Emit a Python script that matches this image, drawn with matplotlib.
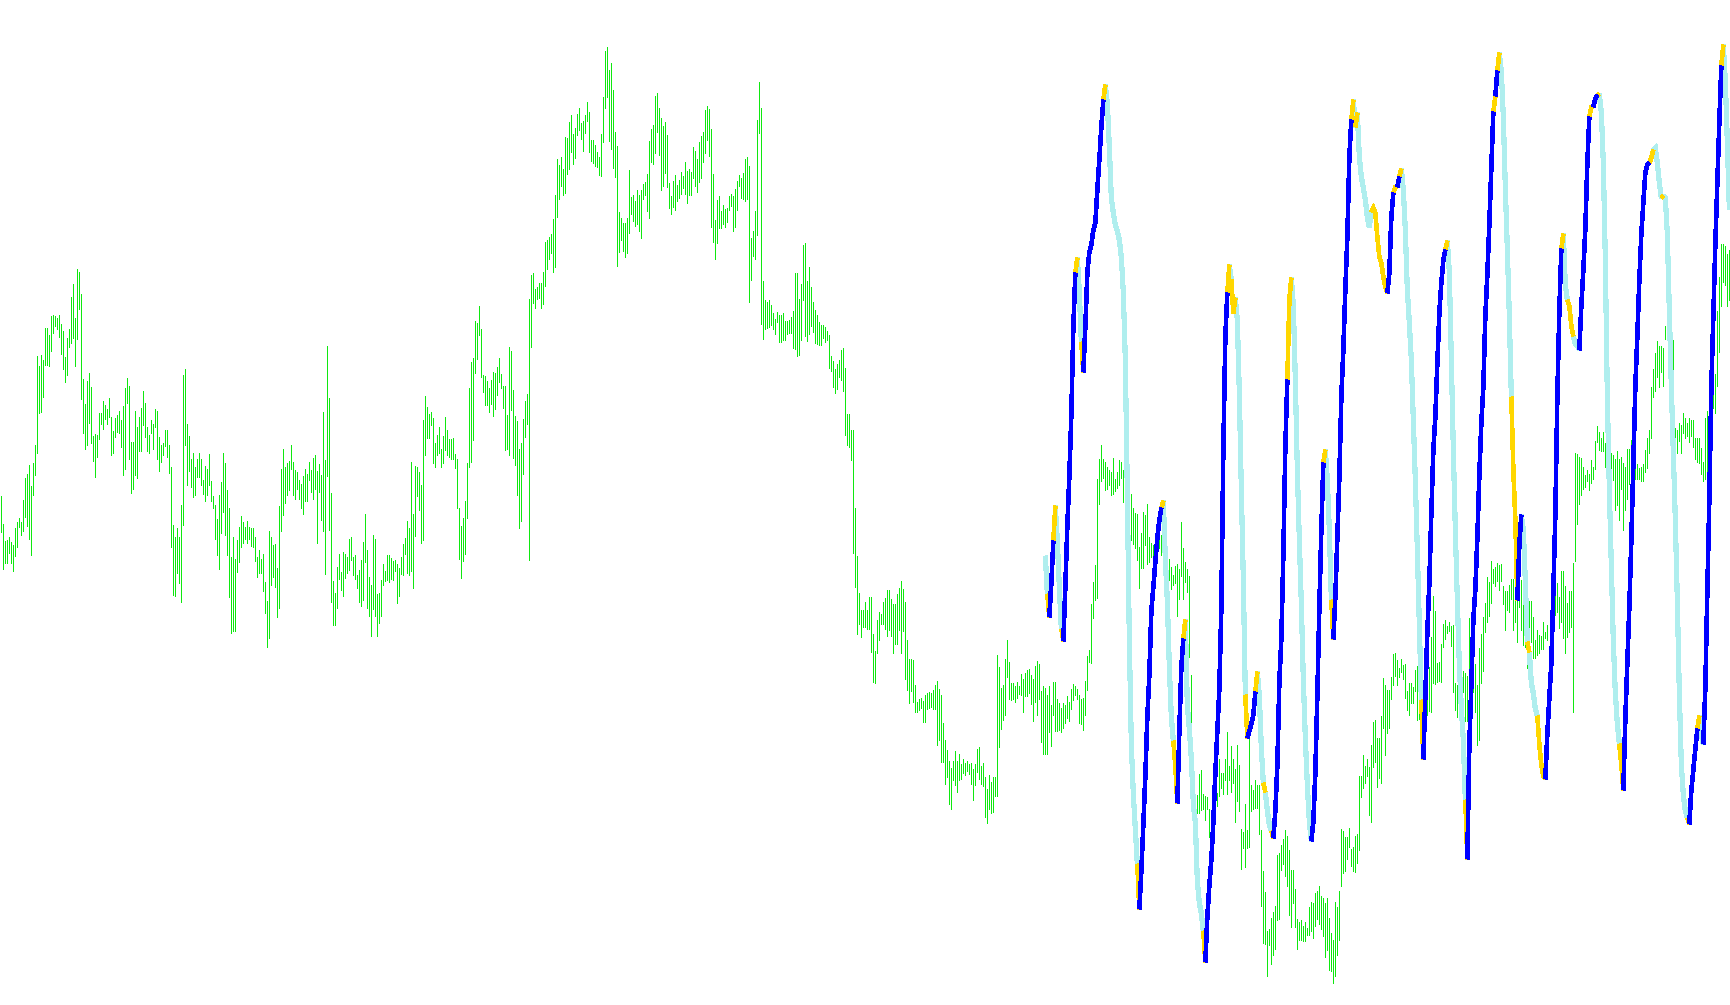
import numpy as np
import matplotlib
matplotlib.use("Agg")
import matplotlib.pyplot as plt
from matplotlib.collections import LineCollection

# price bars: top and bottom of each bar, in pixel rows from the top of the chart
bar_top = [
    496, 524, 541, 540, 537, 542, 545, 528, 522, 518,
    522, 500, 478, 474, 465, 486, 463, 445, 356, 366,
    355, 360, 328, 328, 335, 316, 315, 316, 318, 315,
    324, 331, 357, 338, 329, 297, 284, 318, 269, 272,
    294, 379, 404, 381, 373, 387, 436, 434, 435, 413,
    413, 401, 405, 409, 398, 417, 431, 418, 415, 411,
    420, 406, 388, 378, 386, 442, 442, 411, 427, 417,
    408, 391, 403, 427, 435, 420, 424, 409, 411, 437,
    445, 443, 430, 430, 445, 467, 525, 537, 528, 537,
    505, 375, 369, 424, 436, 459, 453, 467, 459, 453,
    459, 480, 466, 469, 454, 481, 496, 505, 519, 495,
    482, 453, 463, 490, 508, 557, 537, 559, 540, 527,
    516, 522, 527, 521, 527, 528, 528, 537, 557, 550,
    559, 554, 582, 601, 531, 537, 545, 544, 568, 506,
    469, 449, 467, 463, 461, 445, 462, 470, 472, 480,
    484, 476, 469, 474, 462, 470, 458, 455, 471, 464,
    475, 412, 460, 346, 398, 493, 581, 593, 567, 554,
    572, 552, 554, 557, 539, 537, 557, 555, 575, 570,
    560, 542, 514, 550, 577, 585, 535, 539, 594, 593,
    580, 564, 571, 555, 555, 558, 561, 560, 564, 568,
    557, 544, 538, 521, 528, 462, 514, 466, 467, 472,
    485, 420, 396, 407, 414, 412, 418, 443, 435, 427,
    449, 436, 417, 430, 439, 439, 438, 454, 459, 508,
    526, 518, 501, 463, 388, 362, 358, 321, 323, 306,
    329, 375, 376, 381, 388, 380, 372, 373, 367, 358,
    374, 386, 386, 415, 347, 351, 390, 416, 421, 449,
    443, 419, 401, 394, 299, 275, 273, 289, 287, 283,
    283, 272, 242, 240, 237, 234, 219, 195, 159, 165,
    157, 169, 137, 138, 122, 115, 134, 128, 114, 108,
    123, 121, 115, 102, 112, 140, 140, 145, 152, 157,
    134, 97, 51, 47, 70, 63, 90, 132, 146, 212,
    218, 223, 223, 218, 170, 197, 195, 201, 190, 195,
    190, 184, 182, 174, 141, 129, 125, 96, 93, 108,
    118, 126, 122, 135, 183, 196, 181, 175, 185, 180,
    172, 176, 162, 171, 169, 172, 147, 151, 159, 142,
    136, 132, 110, 106, 109, 129, 174, 220, 200, 196,
    211, 205, 209, 208, 196, 194, 196, 189, 181, 175,
    178, 173, 159, 157, 166, 238, 231, 211, 120, 82,
    108, 281, 300, 302, 300, 305, 313, 319, 312, 315,
    315, 313, 321, 321, 320, 317, 311, 273, 273, 299,
    284, 245, 243, 281, 267, 287, 302, 310, 315, 322,
    325, 325, 327, 331, 335, 356, 361, 369, 364, 360,
    350, 348, 368, 414, 414, 430, 430, 508, 556, 593,
    610, 610, 602, 610, 597, 597, 634, 651, 620, 612,
    614, 602, 598, 590, 590, 599, 604, 604, 594, 588,
    581, 589, 602, 640, 659, 659, 660, 685, 702, 699,
    698, 701, 695, 693, 692, 693, 690, 685, 681, 689,
    695, 723, 740, 750, 761, 768, 761, 751, 761, 754,
    764, 759, 763, 761, 764, 763, 769, 764, 749, 747,
    766, 763, 777, 789, 775, 782, 777, 777, 655, 667,
    688, 685, 659, 640, 662, 683, 683, 686, 682, 686,
    674, 679, 673, 670, 669, 675, 679, 666, 661, 664,
    691, 686, 688, 695, 686, 705, 682, 682, 699, 703,
    708, 703, 705, 696, 702, 689, 684, 686, 689, 695,
    699, 698, 681, 656, 650, 604, 582, 565, 479, 459,
    445, 459, 462, 467, 470, 472, 458, 479, 472, 460,
    462, 470, 480, 489, 490, 494, 508, 513, 514, 547,
    533, 512, 515, 504, 537, 543, 545, 540, 542, 533,
    535, 538, 545, 552, 559, 567, 575, 566, 564, 569,
    522, 548, 562, 569, 576, 675, 754, 799, 795, 774,
    770, 794, 796, 797, 809, 815, 792, 783, 793, 759,
    773, 773, 759, 732, 766, 746, 759, 769, 745, 765,
    829, 832, 804, 830, 738, 785, 790, 780, 785, 785,
    830, 871, 892, 931, 929, 918, 912, 906, 855, 853,
    845, 839, 830, 836, 850, 870, 870, 889, 919, 922,
    920, 926, 922, 928, 907, 902, 903, 893, 891, 886,
    896, 898, 903, 898, 918, 933, 940, 902, 907, 891,
    829, 831, 837, 837, 828, 849, 847, 836, 834, 776,
    776, 755, 766, 759, 767, 745, 722, 720, 738, 738,
    716, 678, 685, 690, 690, 677, 654, 653, 660, 668,
    659, 665, 664, 691, 683, 683, 687, 670, 666, 680,
    678, 692, 694, 680, 667, 637, 596, 611, 663, 662,
    644, 624, 620, 626, 622, 626, 625, 683, 685, 690,
    690, 671, 673, 676, 618, 632, 674, 664, 685, 648,
    634, 617, 603, 577, 582, 561, 569, 567, 563, 565,
    564, 586, 591, 591, 585, 579, 579, 574, 593, 561,
    580, 600, 625, 607, 601, 601, 617, 640, 630, 635,
    636, 622, 632, 625, 647, 632, 609, 596, 583, 597,
    571, 571, 586, 603, 591, 591, 563, 453, 454, 457,
    458, 467, 475, 470, 474, 460, 467, 441, 426, 432,
    438, 432, 443, 453, 459, 453, 455, 459, 451, 459,
    457, 463, 467, 449, 449, 440, 448, 449, 464, 468,
    467, 464, 450, 438, 430, 387, 369, 353, 341, 346,
    346, 348, 326, 290, 311, 330, 340, 428, 430, 423,
    425, 413, 418, 423, 418, 420, 420, 438, 438, 438,
    448, 462, 418, 411, 400, 390, 372, 374, 311, 277,
    244, 244, 246, 254, 250,
]
bar_bot = [
    532, 569, 563, 563, 553, 563, 571, 556, 547, 527,
    535, 531, 517, 526, 539, 555, 495, 475, 453, 413,
    412, 397, 365, 365, 366, 351, 333, 326, 329, 337,
    354, 369, 382, 375, 347, 343, 338, 366, 339, 309,
    399, 433, 449, 445, 423, 443, 461, 477, 457, 439,
    424, 429, 419, 424, 417, 455, 453, 437, 432, 433,
    447, 475, 469, 403, 459, 493, 489, 475, 478, 451,
    451, 425, 437, 451, 453, 433, 449, 427, 459, 471,
    462, 455, 446, 457, 473, 547, 595, 596, 573, 583,
    602, 525, 445, 485, 471, 487, 497, 495, 477, 477,
    485, 494, 501, 495, 485, 501, 508, 539, 555, 569,
    533, 512, 535, 555, 597, 633, 631, 631, 572, 562,
    547, 543, 539, 543, 539, 546, 547, 561, 577, 573,
    573, 591, 613, 647, 638, 585, 577, 587, 617, 608,
    531, 515, 503, 495, 490, 469, 495, 499, 489, 499,
    508, 514, 501, 501, 480, 492, 499, 489, 543, 492,
    520, 531, 574, 476, 530, 602, 625, 625, 608, 579,
    590, 596, 578, 573, 570, 560, 575, 579, 588, 602,
    606, 600, 562, 608, 616, 636, 609, 616, 636, 623,
    616, 585, 581, 580, 582, 579, 580, 571, 603, 596,
    574, 575, 554, 573, 575, 571, 588, 536, 496, 510,
    543, 540, 455, 438, 438, 425, 463, 467, 455, 453,
    467, 463, 450, 455, 457, 459, 459, 468, 508, 559,
    578, 561, 554, 518, 467, 462, 440, 373, 359, 335,
    377, 392, 405, 405, 412, 404, 416, 409, 395, 382,
    388, 408, 450, 449, 455, 410, 458, 465, 495, 528,
    521, 474, 437, 424, 560, 347, 303, 308, 299, 298,
    308, 304, 286, 269, 259, 253, 272, 267, 217, 199,
    186, 195, 193, 174, 169, 152, 164, 158, 135, 130,
    139, 151, 133, 121, 152, 161, 163, 166, 167, 175,
    176, 142, 108, 97, 141, 149, 168, 177, 266, 252,
    240, 251, 257, 253, 233, 214, 221, 226, 224, 231,
    238, 199, 195, 211, 218, 162, 164, 153, 132, 155,
    190, 186, 173, 187, 208, 214, 207, 210, 201, 198,
    194, 188, 194, 203, 195, 195, 178, 186, 192, 182,
    178, 162, 153, 140, 156, 227, 242, 259, 243, 228,
    228, 224, 227, 222, 210, 206, 231, 227, 210, 186,
    198, 199, 201, 199, 302, 280, 256, 259, 235, 133,
    324, 339, 329, 328, 327, 325, 329, 334, 322, 342,
    342, 340, 340, 334, 333, 333, 348, 349, 356, 355,
    340, 300, 336, 341, 334, 326, 332, 343, 344, 345,
    345, 338, 342, 340, 368, 371, 387, 393, 389, 377,
    380, 391, 435, 445, 447, 460, 553, 587, 634, 624,
    637, 627, 627, 629, 629, 652, 682, 683, 653, 640,
    624, 624, 629, 636, 630, 636, 653, 644, 644, 630,
    653, 631, 679, 690, 703, 691, 702, 712, 712, 710,
    708, 722, 722, 709, 708, 707, 709, 709, 745, 740,
    762, 762, 784, 777, 804, 809, 780, 785, 792, 780,
    779, 773, 775, 771, 774, 784, 800, 785, 772, 779,
    784, 786, 817, 823, 809, 813, 812, 796, 796, 747,
    729, 720, 715, 677, 699, 700, 699, 702, 698, 694,
    695, 712, 696, 696, 693, 704, 721, 702, 715, 699,
    742, 754, 754, 754, 732, 746, 715, 731, 731, 730,
    732, 728, 723, 718, 721, 709, 700, 695, 699, 723,
    724, 730, 715, 690, 662, 663, 618, 600, 598, 504,
    481, 478, 490, 489, 485, 495, 494, 491, 488, 485,
    478, 502, 520, 529, 545, 540, 544, 548, 560, 588,
    568, 568, 545, 564, 562, 557, 559, 555, 556, 548,
    555, 555, 570, 575, 580, 589, 585, 583, 616, 599,
    576, 599, 582, 592, 657, 724, 790, 825, 813, 813,
    810, 809, 820, 809, 837, 825, 803, 806, 806, 796,
    788, 794, 780, 794, 780, 792, 783, 822, 801, 811,
    869, 848, 867, 848, 847, 811, 809, 808, 808, 834,
    906, 943, 944, 976, 945, 964, 955, 949, 920, 919,
    870, 864, 876, 886, 915, 927, 903, 927, 949, 940,
    940, 941, 941, 935, 935, 931, 938, 926, 919, 924,
    929, 936, 957, 950, 970, 971, 983, 976, 955, 940,
    886, 873, 871, 859, 847, 866, 871, 872, 863, 850,
    797, 788, 783, 776, 815, 822, 767, 762, 787, 778,
    783, 728, 755, 733, 728, 699, 685, 676, 685, 677,
    672, 679, 698, 710, 715, 703, 703, 691, 720, 719,
    703, 710, 727, 715, 711, 712, 683, 684, 682, 681,
    682, 647, 639, 633, 631, 646, 692, 710, 717, 706,
    700, 692, 721, 721, 715, 710, 692, 712, 745, 740,
    683, 671, 632, 622, 616, 603, 583, 586, 581, 590,
    581, 604, 630, 610, 612, 599, 630, 622, 642, 607,
    630, 645, 647, 668, 660, 642, 658, 658, 655, 653,
    649, 649, 638, 640, 683, 670, 635, 615, 612, 628,
    622, 638, 653, 637, 632, 627, 712, 561, 524, 504,
    495, 489, 487, 481, 490, 483, 479, 469, 442, 450,
    451, 451, 467, 474, 487, 484, 480, 510, 505, 520,
    489, 530, 510, 499, 484, 475, 470, 479, 479, 479,
    481, 481, 472, 468, 453, 438, 397, 391, 377, 387,
    372, 386, 339, 338, 346, 370, 400, 471, 453, 441,
    453, 433, 438, 436, 442, 436, 447, 459, 462, 463,
    474, 481, 479, 487, 470, 425, 408, 413, 386, 352,
    306, 282, 285, 306, 300,
]

# oscillator line, one value per bar from bar 522 on (same pixel rows)
osc_start = 522
osc_val = [
    556, 594, 617, 583, 541, 506, 541, 587, 629, 641,
    587, 526, 476, 415, 327, 273, 258, 292, 342, 372,
    327, 273, 252, 245, 230, 223, 190, 160, 127, 100,
    85, 103, 147, 198, 213, 225, 231, 240, 257, 293,
    360, 493, 640, 745, 794, 829, 864, 909, 871, 825,
    776, 717, 675, 611, 587, 562, 538, 520, 508, 501,
    559, 601, 667, 717, 741, 766, 803, 731, 667, 639,
    620, 706, 729, 759, 804, 822, 881, 903, 913, 931,
    962, 917, 885, 860, 822, 773, 731, 689, 608, 450,
    337, 293, 265, 280, 313, 298, 320, 393, 490, 580,
    695, 738, 731, 724, 715, 692, 672, 696, 748, 783,
    792, 811, 825, 831, 838, 811, 766, 682, 639, 555,
    447, 380, 300, 278, 305, 380, 470, 540, 604, 680,
    738, 785, 822, 841, 822, 773, 696, 608, 530, 463,
    450, 480, 530, 600, 639, 597, 538, 478, 397, 350,
    290, 237, 157, 120, 100, 127, 113, 157, 177, 188,
    200, 217, 227, 212, 208, 213, 237, 257, 263, 277,
    287, 293, 273, 217, 193, 187, 187, 177, 169, 190,
    230, 290, 323, 360, 420, 480, 550, 625, 700, 759,
    696, 632, 583, 513, 450, 417, 363, 313, 283, 260,
    250, 241, 272, 360, 450, 530, 600, 665, 708, 740,
    800, 859, 745, 685, 620, 590, 538, 475, 423, 387,
    316, 275, 224, 168, 112, 96, 71, 53, 71, 117,
    188, 249, 316, 397, 469, 520, 600, 545, 515, 530,
    581, 642, 652, 683, 693, 709, 716, 744, 765, 776,
    779, 734, 698, 663, 591, 515, 397, 311, 249, 234,
    285, 300, 306, 326, 336, 344, 345, 350, 306, 270,
    229, 163, 117, 107, 107, 99, 95, 94, 112, 163,
    260, 397, 489, 566, 642, 693, 724, 744, 765, 790,
    719, 663, 607, 540, 464, 387, 336, 280, 234, 203,
    173, 165, 163, 158, 150, 148, 163, 183, 198, 196,
    198, 234, 311, 387, 453, 520, 601, 693, 765, 795,
    811, 818, 824, 790, 770, 749, 729, 716, 734, 744,
    688, 591, 499, 387, 316, 244, 183, 122, 66, 45,
    81, 142, 209,
]
# b = rising, c = falling, y = turning
osc_state = (
    "cybbycccyb" "bbbbbyccyb" "bbbbbbbbby" "cccccccccc" "ccccccybbb"
    "bbbbbbbbyc" "ccccyybbby" "cccccccccy" "bbbbbbbbbb" "bycyyccccc"
    "ybbbbycccy" "cccybbbbbb" "byyccccccc" "cccbbbbbby" "cccybbbbbb"
    "bbbycycccc" "cccyyyyyyy" "ybbbyybycc" "ccccccccyb" "bbbbbbbbbb"
    "yccccccccc" "ybbbbbbbbb" "bbbbybyccc" "cccyyybbcc" "cyccccyyyy"
    "bbbbbbbbyc" "cyyycccbbb" "bbyybbyccc" "cccccccyyb" "bbbbbbbbbb"
    "bbyyccccyc" "cccccccccc" "cybbbbyccb" "bbbbbbbbyc" "ccc"
)

bar_color = '#10e810'
state_color = {'b': '#0000ff', 'c': '#afeeee', 'y': '#ffd700'}
state_px = {'b': 3.6, 'c': 4.2, 'y': 3.6}

fig = plt.figure(figsize=(17.3, 10.05), dpi=100)
ax = fig.add_axes([0, 0, 1, 1])
ax.axis('off')
ax.set_xlim(-0.665, len(bar_top) - 0.665)
ax.set_ylim(1005, 0)

x = np.arange(len(bar_top))
ax.vlines(x, bar_top, bar_bot, colors=bar_color, linewidth=0.72,
          antialiased=False)

# split the oscillator into runs of one colour;
# each step takes the state of the bar it starts from
ox = np.arange(osc_start, osc_start + len(osc_val))
runs = []
cur = None
for k in range(1, len(osc_val)):
    s = osc_state[k - 1]
    if cur is None or s != cur[0]:
        cur = [s, [(ox[k - 1], osc_val[k - 1])]]
        runs.append(cur)
    cur[1].append((ox[k], osc_val[k]))

for s in 'cyb':
    segs = [pts for st, pts in runs if st == s]
    lc = LineCollection(segs, colors=state_color[s],
                        linewidths=state_px[s] * 0.72, antialiased=False,
                        capstyle='butt', joinstyle='miter')
    ax.add_collection(lc)

fig.savefig('out.png', dpi=100, facecolor='white')
